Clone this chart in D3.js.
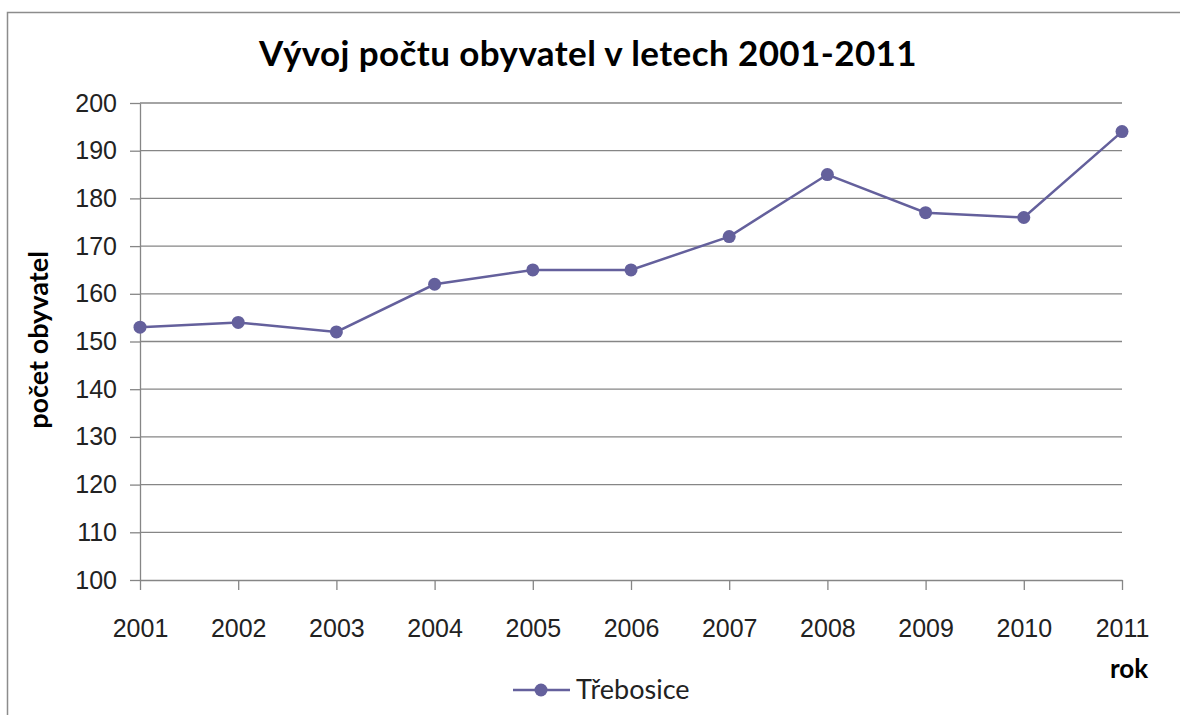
<!DOCTYPE html>
<html>
<head>
<meta charset="utf-8">
<script src="https://cdn.jsdelivr.net/npm/d3@7"></script>
<style>
  body { margin: 0; background: #fff; overflow: hidden; }
  svg { font-family: Lato, "Open Sans", sans-serif; display: block; }
</style>
</head>
<body>
<div id="chart"></div>
<script>
// population 2001-2011
const years = ['2001', '2002', '2003', '2004', '2005', '2006', '2007', '2008', '2009', '2010', '2011'];
const population = [153, 154, 152, 162, 165, 165, 172, 185, 177, 176, 194];
const yTicks = [100, 110, 120, 130, 140, 150, 160, 170, 180, 190, 200];
const seriesName = 'Třebosice';

const width = 1180;
const height = 715;
const plotLeft = 140, plotRight = 1122, plotTop = 103, plotBottom = 580;
const lineColor = '#64609c';
const axisColor = '#868686';

const svg = d3.select('#chart')
  .append('svg')
  .attr('width', width)
  .attr('height', height);

// chart frame
svg.append('rect')
  .attr('x', 7.5)
  .attr('y', 12.5)
  .attr('width', width + 20)
  .attr('height', height + 20)
  .attr('fill', 'none')
  .attr('stroke', '#8c8c8c')
  .attr('stroke-width', 1.5);

const xScale = d3.scalePoint()
  .domain(years)
  .range([plotLeft, plotRight]);

const yScale = d3.scaleLinear()
  .domain([100, 200])
  .range([plotBottom, plotTop]);

// gridlines
svg.append('g')
  .selectAll('line')
  .data(yTicks.slice(1))
  .enter()
  .append('line')
  .attr('x1', plotLeft)
  .attr('x2', plotRight)
  .attr('y1', (d) => yScale(d))
  .attr('y2', (d) => yScale(d))
  .attr('stroke', axisColor)
  .attr('stroke-width', 1.3);

// y axis
const yAxis = svg.append('g')
  .attr('transform', 'translate(' + plotLeft + ',0)')
  .call(d3.axisLeft(yScale).tickValues(yTicks).tickSize(10).tickPadding(13).tickSizeOuter(0));
yAxis.selectAll('text')
  .style('font-size', '25px')
  .style('fill', '#222');

// x axis
const xAxis = svg.append('g')
  .attr('transform', 'translate(0,' + plotBottom + ')')
  .call(d3.axisBottom(xScale).tickSize(10).tickPadding(29).tickSizeOuter(0));
xAxis.selectAll('text')
  .style('font-size', '25px')
  .style('fill', '#222');

svg.selectAll('.domain, .tick line')
  .attr('stroke', axisColor)
  .attr('stroke-width', 1.3);

// line + markers
const line = d3.line()
  .x((d, i) => xScale(years[i]))
  .y((d) => yScale(d));

svg.append('path')
  .datum(population)
  .attr('d', line)
  .attr('fill', 'none')
  .attr('stroke', lineColor)
  .attr('stroke-width', 2.5);

svg.selectAll('.dot')
  .data(population)
  .enter()
  .append('circle')
  .attr('class', 'dot')
  .attr('cx', (d, i) => xScale(years[i]))
  .attr('cy', (d) => yScale(d))
  .attr('r', 6.5)
  .attr('fill', lineColor);

// title
svg.append('text')
  .attr('x', 588)
  .attr('y', 66)
  .attr('text-anchor', 'middle')
  .style('font-size', '35px')
  .style('font-weight', '700')
  .style('letter-spacing', '0.4px')
  .style('fill', '#000')
  .text('Vývoj počtu obyvatel v letech 2001-2011');

// axis titles
svg.append('text')
  .attr('transform', 'translate(48,340) rotate(-90)')
  .attr('text-anchor', 'middle')
  .style('font-size', '27px')
  .style('font-weight', '700')
  .style('fill', '#000')
  .text('počet obyvatel');

svg.append('text')
  .attr('x', 1129)
  .attr('y', 678)
  .attr('text-anchor', 'middle')
  .style('font-size', '26px')
  .style('font-weight', '700')
  .style('fill', '#000')
  .text('rok');

// legend
const legend = svg.append('g').attr('transform', 'translate(513,690)');
legend.append('line')
  .attr('x1', 0)
  .attr('x2', 57)
  .attr('stroke', lineColor)
  .attr('stroke-width', 2.5);
legend.append('circle')
  .attr('cx', 28)
  .attr('r', 6.5)
  .attr('fill', lineColor);
legend.append('text')
  .attr('x', 63)
  .attr('y', 9)
  .style('font-size', '27px')
  .style('fill', '#222')
  .text(seriesName);
</script>
</body>
</html>
